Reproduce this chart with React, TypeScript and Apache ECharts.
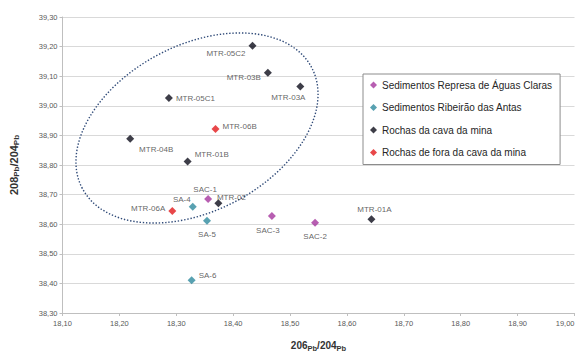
import React, { useEffect, useRef } from "react";
import * as echarts from "echarts";

const seriesNames = [
  "Sedimentos Represa de Águas Claras",
  "Sedimentos Ribeirão das Antas",
  "Rochas da cava da mina",
  "Rochas de fora da cava da mina",
];
const seriesColors = ["#A5369E", "#2E8A9E", "#0D0D1A", "#E2191B"];

// Sedimentos Represa de Águas Claras
const sacLabels = ["SAC-1", "SAC-3", "SAC-2"];
const sacX = [18.356, 18.468, 18.544];
const sacY = [38.685, 38.628, 38.605];

// Sedimentos Ribeirão das Antas
const saLabels = ["SA-4", "SA-5", "SA-6"];
const saX = [18.329, 18.354, 18.327];
const saY = [38.659, 38.612, 38.411];

// Rochas da cava da mina
const mtrLabels = ["MTR-05C2", "MTR-03B", "MTR-03A", "MTR-05C1", "MTR-04B", "MTR-01B", "MTR-02", "MTR-01A"];
const mtrX = [18.434, 18.461, 18.518, 18.287, 18.219, 18.32, 18.374, 18.643];
const mtrY = [39.203, 39.112, 39.065, 39.026, 38.889, 38.812, 38.671, 38.617];

// Rochas de fora da cava da mina
const foraLabels = ["MTR-06B", "MTR-06A"];
const foraX = [18.369, 18.293];
const foraY = [38.922, 38.645];

const xMin = 18.1, xMax = 19.0, xStep = 0.1;
const yMin = 38.3, yMax = 39.3, yStep = 0.1;

// label placement per point name (style only)
const labelPlace: Record<string, { position: string; offset: number[] }> = {
  "MTR-05C2": { position: "left", offset: [0, 8] },
  "MTR-03B": { position: "left", offset: [0, 5] },
  "MTR-03A": { position: "bottom", offset: [-12, 0] },
  "MTR-05C1": { position: "right", offset: [0, 0] },
  "MTR-06B": { position: "right", offset: [0, -2] },
  "MTR-04B": { position: "bottom", offset: [26, 0] },
  "MTR-01B": { position: "right", offset: [0, -7] },
  "MTR-06A": { position: "left", offset: [0, -2] },
  "SA-4": { position: "top", offset: [-11, 4] },
  "SAC-1": { position: "top", offset: [-3, 1] },
  "MTR-02": { position: "top", offset: [13, 5] },
  "SA-5": { position: "bottom", offset: [0, 3] },
  "SAC-3": { position: "bottom", offset: [-4, 4] },
  "SAC-2": { position: "bottom", offset: [0, 3] },
  "MTR-01A": { position: "top", offset: [3, 1] },
  "SA-6": { position: "right", offset: [0, -5] },
};

const fmt = (v: number) => v.toFixed(2).replace(".", ",");

function buildData(labels: string[], xs: number[], ys: number[]) {
  return labels.map((name, i) => {
    const p = labelPlace[name] || { position: "right", offset: [0, 0] };
    return {
      name,
      value: [xs[i], ys[i]],
      label: { show: true, position: p.position, offset: p.offset, distance: 3 },
    };
  });
}

export default function App() {
  const ref = useRef<HTMLDivElement>(null);
  useEffect(() => {
    if (!ref.current) return;
    const chart = echarts.init(ref.current, null, { renderer: "svg" });
    const groups = [
      buildData(sacLabels, sacX, sacY),
      buildData(saLabels, saX, saY),
      buildData(mtrLabels, mtrX, mtrY),
      buildData(foraLabels, foraX, foraY),
    ];
    const yNameRich = {
      n: { fontSize: 11, fontWeight: "bold", color: "#333", fontFamily: "Liberation Sans" },
      s: { fontSize: 8, fontWeight: "bold", color: "#333", fontFamily: "Liberation Sans", padding: [6, 0, 0, 0] },
    };
    const xNameRich = {
      n: { fontSize: 10, fontWeight: "bold", color: "#333", fontFamily: "Liberation Sans" },
      s: { fontSize: 7.5, fontWeight: "bold", color: "#333", fontFamily: "Liberation Sans", padding: [5, 0, 0, 0] },
    };
    chart.setOption({
      animation: false,
      backgroundColor: "#ffffff",
      textStyle: { fontFamily: "Liberation Sans" },
      grid: { left: 62.5, right: 7.5, top: 17, bottom: 41, containLabel: false, outerBoundsMode: "none" },
      xAxis: {
        type: "value",
        min: xMin,
        max: xMax,
        interval: xStep,
        name: "{n|206}{s|Pb}{n|/204}{s|Pb}",
        nameLocation: "middle",
        nameGap: 26,
        nameTextStyle: { rich: xNameRich },
        axisLine: { show: true, lineStyle: { color: "#BFBFBF" } },
        axisTick: { show: true, length: 3, lineStyle: { color: "#BFBFBF" } },
        axisLabel: { formatter: fmt, fontSize: 7.5, color: "#595959", margin: 6, alignMaxLabel: "right" },
        splitLine: { show: false },
      },
      yAxis: {
        type: "value",
        min: yMin,
        max: yMax,
        interval: yStep,
        name: "{n|208}{s|Pb}{n|/204}{s|Pb}",
        nameLocation: "middle",
        nameGap: 42,
        nameRotate: 90,
        nameTextStyle: { rich: yNameRich },
        axisLine: { show: true, lineStyle: { color: "#BFBFBF" } },
        axisTick: { show: true, length: 3, lineStyle: { color: "#BFBFBF" } },
        axisLabel: { formatter: fmt, fontSize: 7.5, color: "#595959", margin: 5 },
        splitLine: { show: true, lineStyle: { color: "#D9D9D9" } },
      },
      legend: {
        orient: "vertical",
        left: 363,
        top: 74,
        backgroundColor: "#ffffff",
        borderColor: "#8C8C8C",
        borderWidth: 1,
        padding: [6, 8, 7, 7],
        itemGap: 12.5,
        itemWidth: 7,
        itemHeight: 7,
        icon: "diamond",
        textStyle: { fontSize: 10, color: "#262626", fontFamily: "Liberation Sans" },
        data: seriesNames,
      },
      graphic: [
        {
          type: "ellipse",
          x: 197,
          y: 128,
          rotation: 0.485,
          shape: { cx: 0, cy: 0, rx: 129.6, ry: 82.9 },
          style: { fill: "none", stroke: "#2F4A78", lineWidth: 1.4, lineDash: [1.4, 1.8] },
          z: 1,
        },
      ],
      series: groups.map((data, i) => ({
        type: "scatter",
        name: seriesNames[i],
        symbol: "diamond",
        symbolSize: 8,
        itemStyle: { color: seriesColors[i] },
        label: { show: true, formatter: "{b}", fontSize: 8, color: "#3A3A3A" },
        data,
        z: 3,
      })),
    });
    return () => chart.dispose();
  }, []);
  return (
    <div
      ref={ref}
      style={{ position: "fixed", left: 0, top: 0, width: 582, height: 354 }}
    />
  );
}
